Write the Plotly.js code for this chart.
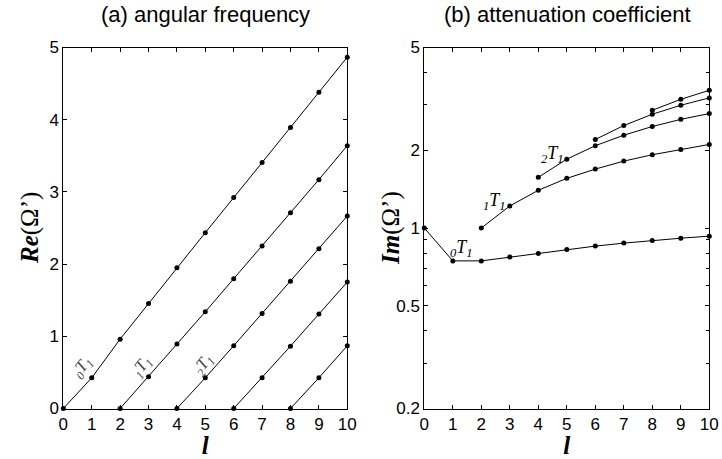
<!DOCTYPE html>
<html><head><meta charset="utf-8">
<script src="https://cdn.plot.ly/plotly-3.0.1.min.js"></script>
<style>html,body{margin:0;padding:0;background:#fff}#c{width:722px;height:459px}</style>
</head><body><div id="c"></div>
<script>
// angular frequency Re(Ω') for overtones nT1 (start l = 2n)
const re_l0 = [0,1,2,3,4,5,6,7,8,9,10];
const re_0 = [0,0.425,0.961,1.456,1.950,2.435,2.921,3.406,3.891,4.381,4.866];
const re_l1 = [2,3,4,5,6,7,8,9,10];
const re_1 = [0,0.439,0.892,1.340,1.798,2.250,2.713,3.170,3.641];
const re_l2 = [4,5,6,7,8,9,10];
const re_2 = [0,0.425,0.869,1.317,1.761,2.214,2.666];
const re_l3 = [6,7,8,9,10];
const re_3 = [0,0.425,0.864,1.308,1.751];
const re_l4 = [8,9,10];
const re_4 = [0,0.425,0.869];

// attenuation coefficient Im(Ω')
const im_l0 = [0,1,2,3,4,5,6,7,8,9,10];
const im_0 = [1.0,0.746,0.746,0.772,0.797,0.826,0.851,0.874,0.895,0.913,0.930];
const im_l1 = [2,3,4,5,6,7,8,9,10];
const im_1 = [1.0,1.217,1.40,1.557,1.691,1.816,1.922,2.015,2.107];
const im_l2 = [4,5,6,7,8,9,10];
const im_2 = [1.571,1.848,2.083,2.288,2.472,2.635,2.775];
const im_l3 = [6,7,8,9,10];
const im_3 = [2.202,2.494,2.758,2.988,3.19];
const im_l4 = [8,9,10];
const im_4 = [2.858,3.15,3.414];

const xTicks = [0,1,2,3,4,5,6,7,8,9,10];
const reTicks = [0,1,2,3,4,5];
const imTicks = [0.2,0.5,1,2,5];
const imMinor = [0.3,0.4,0.6,0.7,0.8,0.9,3,4];

function tr(x, y, ax) {
  return {x: x, y: y, xaxis: ax==2?'x2':'x', yaxis: ax==2?'y2':'y', type:'scatter', mode:'lines+markers',
    line:{color:'#000', width:1}, marker:{color:'#000', size:5}, showlegend:false, cliponaxis:false};
}
const data = [
  tr(re_l0,re_0,1), tr(re_l1,re_1,1), tr(re_l2,re_2,1), tr(re_l3,re_3,1), tr(re_l4,re_4,1),
  tr(im_l0,im_0,2), tr(im_l1,im_1,2), tr(im_l2,im_2,2), tr(im_l3,im_3,2), tr(im_l4,im_4,2)
];

const tickFont = {family:'Liberation Sans, Arial', size:17, color:'#000'};
const axTitleFont = {family:'Liberation Serif, Times New Roman', size:25, color:'#000'};
const common = {showline:true, linecolor:'#000', linewidth:1, mirror:'ticks', ticks:'inside', ticklen:4,
  tickcolor:'#000', showgrid:false, zeroline:false, tickfont:tickFont};

const yb = 0.110, yt = 0.8965;
const labFont = {family:'Liberation Serif, Times New Roman', size:17, color:'#444'};
const labFont2 = {family:'Liberation Serif, Times New Roman', size:18, color:'#000'};
const layout = {
  width:722, height:459, margin:{l:0,r:0,t:0,b:0}, paper_bgcolor:'#fff', plot_bgcolor:'#fff',
  xaxis: Object.assign({}, common, {domain:[0.0877,0.481], range:[0,10], tickvals:xTicks, anchor:'y',
    title:{text:'<b><i>l</i></b>', font:axTitleFont, standoff:2}}),
  yaxis: Object.assign({}, common, {domain:[yb,yt], range:[0,5], tickvals:reTicks, anchor:'x'}),
  xaxis2: Object.assign({}, common, {domain:[0.5877,0.9824], range:[0,10], tickvals:xTicks, anchor:'y2',
    title:{text:'<b><i>l</i></b>', font:axTitleFont, standoff:2}}),
  yaxis2: Object.assign({}, common, {domain:[yb,yt], type:'log', range:[Math.log10(0.2),Math.log10(5)],
    tickvals:imTicks, ticktext:imTicks.map(String), anchor:'x2',
    minor:{tickmode:'array', tickvals:imMinor, ticks:'inside', ticklen:3, tickcolor:'#000', showgrid:false}}),
  annotations: [
    {text:'(a) angular frequency', xref:'paper', yref:'paper', x:205/722, y:1-15/459, showarrow:false,
      font:{family:'Liberation Sans, Arial', size:22, color:'#000'}, xanchor:'center', yanchor:'middle'},
    {text:'(b) attenuation coefficient', xref:'paper', yref:'paper', x:567/722, y:1-15/459, showarrow:false,
      font:{family:'Liberation Sans, Arial', size:22, color:'#000'}, xanchor:'center', yanchor:'middle'},
    {text:'<b><i>Re</i></b>(Ω’)', xref:'paper', yref:'paper', x:30/722, y:1-228/459, showarrow:false,
      textangle:-90, font:axTitleFont, xanchor:'center', yanchor:'middle'},
    {text:'<b><i>Im</i></b>(Ω’)', xref:'paper', yref:'paper', x:391/722, y:1-228/459, showarrow:false,
      textangle:-90, font:axTitleFont, xanchor:'center', yanchor:'middle'},
    {text:'<i><sub>0</sub>T<sub>1</sub></i>', xref:'x', yref:'y', x:0.69, y:0.57, showarrow:false, textangle:-52,
      font:labFont},
    {text:'<i><sub>1</sub>T<sub>1</sub></i>', xref:'x', yref:'y', x:2.76, y:0.58, showarrow:false, textangle:-52,
      font:labFont},
    {text:'<i><sub>2</sub>T<sub>1</sub></i>', xref:'x', yref:'y', x:4.93, y:0.60, showarrow:false, textangle:-52,
      font:labFont},
    {text:'<i><sub>0</sub>T<sub>1</sub></i>', xref:'x2', yref:'y2', x:1.29, y:-0.078, showarrow:false, font:labFont2},
    {text:'<i><sub>1</sub>T<sub>1</sub></i>', xref:'x2', yref:'y2', x:2.48, y:0.1008, showarrow:false, font:labFont2},
    {text:'<i><sub>2</sub>T<sub>1</sub></i>', xref:'x2', yref:'y2', x:4.5, y:0.285, showarrow:false, font:labFont2}
  ]
};
Plotly.newPlot('c', data, layout, {staticPlot:true, displayModeBar:false});
</script></body></html>
